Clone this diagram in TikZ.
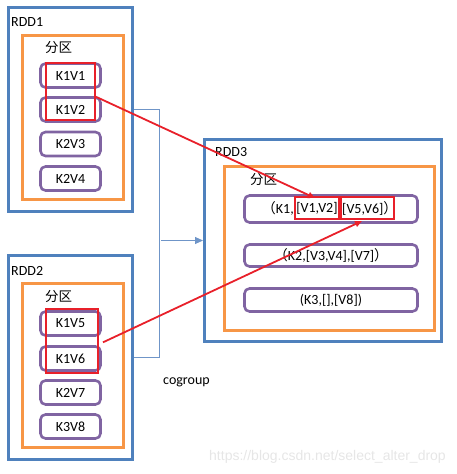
\documentclass[tikz,border=0pt]{standalone}
\usepackage{fontspec}
\setmainfont{Carlito}
\newfontfamily\cjk{Noto Sans CJK SC}
\newfontfamily\wmfont{Liberation Sans}
\usetikzlibrary{arrows.meta,calc}
\definecolor{rddblue}{HTML}{4F81BD}
\definecolor{linkblue}{HTML}{6F95C8}
\definecolor{partorange}{HTML}{F79646}
\definecolor{kvpurple}{HTML}{8064A2}
\definecolor{selred}{HTML}{E8202A}
\definecolor{wmgray}{HTML}{E6E6E6}
\tikzset{
  rddbox/.style={draw=rddblue, line width=3pt, inner sep=0pt},
  partbox/.style={draw=partorange, line width=3pt, inner sep=0pt},
  kvbox/.style={draw=kvpurple, line width=2.6pt, rounded corners=5pt, inner sep=0pt, font=\fontsize{14}{16}\selectfont},
  selbox/.style={draw=selred, line width=2pt, inner sep=0pt},
  lbl/.style={inner sep=0pt, font=\fontsize{14}{16}\selectfont},
  cjklbl/.style={inner sep=0pt, font=\cjk\fontsize{13.5}{16}\selectfont},
  redarrow/.style={draw=selred, line width=1.8pt, -{Triangle[length=7pt,width=6pt]}},
  bluelink/.style={draw=linkblue, line width=1pt},
}
\begin{document}
\begin{tikzpicture}[x=1pt,y=-1pt]
\useasboundingbox (0,0) rectangle (456,474);
% ---------- RDD1 ----------
\node[rddbox, minimum width=124pt, minimum height=204pt] (rdd1) at (70.5,109.5) {};
\node[lbl, anchor=west] (rdd1l) at (11,22) {RDD1};
\node[partbox, minimum width=101pt, minimum height=164pt] (p1) at (73,117.5) {};
\node[cjklbl, anchor=west] (p1l) at (45,48) {分区};
\node[kvbox, minimum width=60pt, minimum height=24pt] (k1v1) at (70.5,75.5) {K1V1};
\node[kvbox, minimum width=60pt, minimum height=24pt] (k1v2) at (70.5,109.5) {K1V2};
\node[kvbox, minimum width=60pt, minimum height=24pt] (k2v3) at (70.5,144) {K2V3};
\node[kvbox, minimum width=60pt, minimum height=24pt] (k2v4) at (70.5,178.5) {K2V4};
\node[selbox, minimum width=49pt, minimum height=57pt] (sel1) at (70.5,91.5) {};
% ---------- RDD2 ----------
\node[rddbox, minimum width=124pt, minimum height=204pt] (rdd2) at (70.5,357.5) {};
\node[lbl, anchor=west] (rdd2l) at (11,271) {RDD2};
\node[partbox, minimum width=101pt, minimum height=164pt] (p2) at (73,365.5) {};
\node[cjklbl, anchor=west] (p2l) at (45,297) {分区};
\node[kvbox, minimum width=60pt, minimum height=24pt] (k1v5) at (70.5,323.5) {K1V5};
\node[kvbox, minimum width=60pt, minimum height=24pt] (k1v6) at (70.5,358.5) {K1V6};
\node[kvbox, minimum width=60pt, minimum height=24pt] (k2v7) at (70.5,392.5) {K2V7};
\node[kvbox, minimum width=60pt, minimum height=24pt] (k3v8) at (70.5,426.5) {K3V8};
\node[selbox, minimum width=52pt, minimum height=64pt] (sel2) at (72,341) {};
% ---------- RDD3 ----------
\node[rddbox, minimum width=237pt, minimum height=202pt] (rdd3) at (323,240.5) {};
\node[lbl, anchor=west] (rdd3l) at (215,152) {RDD3};
\node[partbox, minimum width=210pt, minimum height=164pt] (p3) at (329.5,248.5) {};
\node[cjklbl, anchor=west] (p3l) at (250,180) {分区};
\node[kvbox, minimum width=173pt, minimum height=27pt] (r1) at (331,209) {};
\node[kvbox, minimum width=173pt, minimum height=22pt] (r2) at (331,255.5) {{\cjk（}K2,[V3,V4],[V7]{\cjk）}};
\node[kvbox, minimum width=173pt, minimum height=23pt] (r3) at (331,300) {(K3,[],[V8])};
\node[selbox, minimum width=44pt, minimum height=22pt] (v12) at (317,208) {};
\node[selbox, minimum width=53pt, minimum height=22pt] (v56) at (367.5,208) {};
\node[lbl, anchor=east] (r1a) at (v12.west) {{\cjk（}K1,};
\node[lbl] (r1b) at (v12.center) {[V1,V2]};
\node[lbl, anchor=west] (r1c) at ($(v56.west)+(2,0)$) {[V5,V6]{\cjk）}};
% ---------- connectors ----------
\coordinate (mid) at (159,0);
\draw[bluelink] (rdd1.east) -- (rdd1.east -| mid) -- (rdd2.east -| mid) -- (rdd2.east);
\coordinate (arrstart) at ($(rdd3.west -| mid)+(2,0)$);
\draw[bluelink, -{Triangle[length=8pt,width=7pt]}] (arrstart) -- (rdd3.west);
\node[lbl, anchor=west] (cog) at (163,382) {cogroup};
\coordinate (s1) at ($(sel1.north east)!0.59!(sel1.south east)$);
\coordinate (e1) at ($(v12.north west)+(21,2)$);
\draw[redarrow] (s1) -- (e1);
\coordinate (s2) at ($(sel2.north east)!0.52!(sel2.south east)+(4,0)$);
\coordinate (e2) at ($(v56.south west)+(22,1)$);
\draw[redarrow] (s2) -- (e2);
% ---------- watermark ----------
\node[inner sep=0pt, anchor=east, text=wmgray, font=\wmfont\fontsize{14}{16}\selectfont] (wm) at (446,457) {https://blog.csdn.net/select\_alter\_drop};
\end{tikzpicture}
\end{document}
